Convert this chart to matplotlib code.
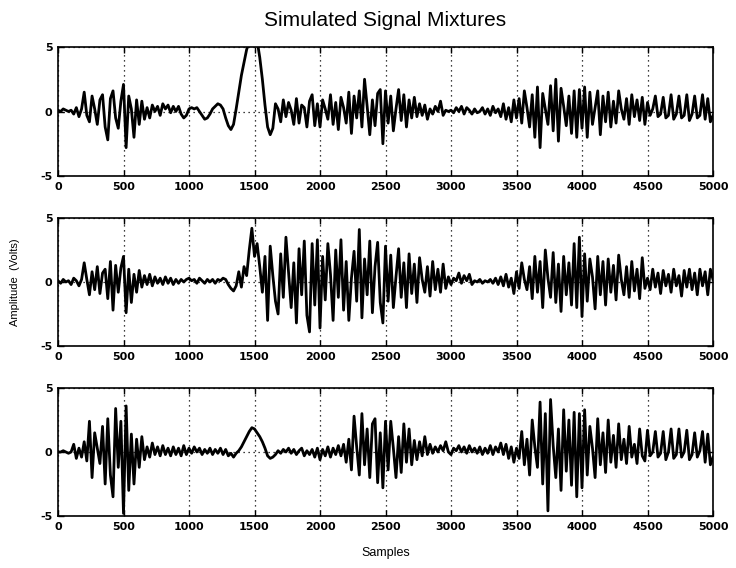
import numpy as np
import matplotlib.pyplot as plt

# ----- DATA (one value every 20 samples) -----
step = 20

mix1 = [0.1, 0.0, 0.2, 0.1, 0.0, 0.1, -0.2, 0.3, -0.4, 0.2, 1.5, -0.3, -0.8, 1.2, 0.2, -1.0, 0.9, 1.3, -1.2, -2.2, 1.0, 1.6, -0.5, -1.3, 0.8,
        2.1, -2.8, 1.2, 0.2, -2.0, 0.9, -1.0, 0.8, -0.6, 0.3, -0.5, 0.5, 0.0, 0.4, -0.3, 0.6, 0.2, 0.5, -0.1, 0.4, 0.0, 0.4, -0.2, -0.5, -0.3,
        0.2, 0.3, 0.2, 0.3, 0.0, -0.3, -0.6, -0.5, -0.2, 0.2, 0.4, 0.6, 0.5, 0.2, -0.5, -1.1, -1.4, -1.0, 0.2, 1.5, 2.8, 3.8, 4.8, 5.4, 5.6,
        5.8, 5.5, 4.2, 2.5, 0.5, -1.2, -1.8, -1.3, 0.6, 0.2, -0.8, 0.9, -0.4, 0.7, 0.1, -1.0, 1.0, -0.9, 0.5, 0.3, -1.2, 0.8, 1.3, -1.1, 0.6,
        -1.2, 0.9, 0.2, -0.6, 1.3, -1.0, 0.7, -1.4, 1.1, 0.3, -0.9, 1.5, -1.7, 1.2, -0.5, 1.6, -1.2, 2.5, 0.4, -1.8, 0.9, -1.1, 1.4, 1.7, -2.5,
        1.6, -0.9, 1.2, -1.5, 0.2, 1.7, -0.7, 1.3, -1.2, 0.9, -0.5, 1.1, -0.4, 0.6, -0.3, 0.5, -0.6, 0.2, -0.2, 0.4, 0.0, 0.8, -0.3, 0.1, 0.0,
        0.1, -0.1, 0.3, 0.0, 0.4, -0.2, 0.3, 0.1, -0.2, 0.2, -0.1, 0.0, 0.3, -0.2, 0.2, -0.3, 0.4, -0.1, 0.2, -0.4, 0.6, -0.6, 0.3, -0.8, 0.9,
        -0.5, 1.0, -0.9, 1.6, 0.3, -1.2, 1.3, -2.0, 1.9, -2.8, 1.4, 0.2, -1.0, 2.0, -1.5, 2.5, -2.3, 1.8, 0.4, -1.1, 1.2, -1.7, 1.6, -2.0, 1.7,
        -1.3, 1.9, -2.0, 1.5, -1.0, 0.3, 1.6, -1.8, 1.2, -0.8, 1.5, -1.2, 0.8, -0.9, 1.6, 0.2, -0.6, 1.0, -1.0, 1.3, -0.4, 0.9, -0.7, 1.1, -1.0,
        0.7, -0.3, 0.2, 1.2, -0.4, -0.2, 1.1, -0.5, -0.3, 1.3, -0.6, -0.2, 1.2, -0.5, -0.3, 1.3, -0.7, -0.2, 1.2, -0.5, -0.3, 1.3, -0.6, 1.0, -0.8, -0.3]

mix2 = [0.1, -0.1, 0.2, 0.0, 0.1, -0.2, 0.3, 0.1, -0.3, 0.2, 1.5, 0.2, -1.0, 0.8, -0.6, 1.2, -0.9, 0.7, 1.0, -1.3, 1.6, -2.2, 1.3, -0.8, 1.1,
        2.0, -2.4, 1.0, -1.6, 0.6, -0.8, 0.9, -0.4, 0.5, -0.2, 0.6, -0.3, 0.4, -0.1, 0.3, -0.2, 0.4, -0.1, 0.3, -0.2, 0.2, -0.1, 0.2, 0.0, 0.2,
        0.3, 0.1, 0.2, -0.1, 0.3, 0.1, -0.1, 0.2, 0.0, 0.2, -0.1, 0.2, 0.1, 0.3, 0.2, -0.2, -0.5, -0.7, -0.3, 0.8, -0.4, 1.2, 0.5, 2.5, 4.2,
        2.0, 3.0, 1.2, -0.8, 2.0, -3.0, 2.8, 0.5, -1.5, -2.5, 2.2, -1.2, 3.5, 0.8, -2.0, 1.5, -3.2, 2.6, -1.0, 3.2, -2.6, -3.9, 3.0, -1.8, 3.3,
        -3.6, 2.0, -1.4, 3.0, 0.6, -3.0, 2.5, -1.2, 3.3, -2.2, 1.6, -3.0, 0.3, 2.4, -1.5, 4.1, -2.8, 1.8, -1.0, 3.2, -2.4, 1.2, 3.1, -1.6, -3.2,
        2.8, -1.5, 2.1, -2.0, 0.4, 2.6, -1.2, 1.5, -2.0, 2.2, -0.9, 1.4, -1.6, 1.9, 0.2, -0.8, 1.2, -1.1, 1.6, -0.6, 1.0, -0.8, 1.4, -0.5, 0.4,
        -0.2, 0.3, 0.1, 0.7, -0.1, 0.5, 0.1, 0.6, -0.2, 0.1, 0.0, 0.2, -0.1, 0.1, 0.0, 0.2, -0.1, 0.3, -0.2, 0.4, -0.3, 0.6, -0.4, 0.3, -0.9,
        0.8, -0.5, 1.5, 0.2, -0.6, 1.2, -1.3, 2.0, -0.8, 1.6, -2.0, 2.5, 0.3, -1.2, 2.3, -1.6, 1.4, -2.3, 2.0, -1.0, 1.5, -1.8, 3.0, -2.0, 3.5,
        -2.7, 2.2, -1.5, 1.8, 0.4, -2.1, 2.0, -1.0, 1.6, -1.8, 1.8, -0.8, 1.3, -1.4, 2.1, 0.2, -1.0, 1.2, -1.2, 1.6, -0.7, 1.0, -1.3, 1.9, -0.5,
        0.3, -0.6, 1.0, -0.4, 0.7, -0.9, 0.9, -0.3, 0.6, -0.8, 1.0, -0.3, 0.5, -1.1, 0.9, -0.4, 1.0, -0.6, 0.7, -1.0, 1.0, -0.3, 0.8, -1.0, 1.0, 0.2]

mix3 = [0.0, 0.0, 0.1, 0.0, -0.1, 0.0, 0.6, -0.5, 0.3, -0.4, 0.8, -0.7, 2.4, -2.0, 1.5, 0.3, -0.9, 2.0, -2.5, 2.6, -1.8, -3.5, 3.4, -1.2, 2.4,
        -4.8, 3.6, -3.0, 1.4, -2.5, 1.0, -1.2, 1.2, -0.6, 0.4, -0.4, 0.7, -0.2, 0.4, -0.3, 0.5, -0.2, 0.3, -0.3, 0.4, -0.2, 0.3, -0.3, 0.5, -0.2,
        0.3, -0.1, 0.4, 0.0, 0.3, -0.2, 0.2, -0.1, 0.3, -0.2, 0.2, -0.1, 0.3, -0.2, 0.2, -0.3, -0.1, -0.4, -0.1, 0.1, 0.4, 0.8, 1.2, 1.6, 1.9,
        1.8, 1.5, 1.2, 0.8, 0.3, -0.3, -0.5, -0.4, -0.2, 0.1, -0.1, 0.2, 0.0, 0.3, -0.1, 0.2, -0.2, 0.1, 0.3, -0.3, 0.1, -0.2, 0.2, -0.4, 0.3,
        -0.6, 0.2, -0.3, 0.4, -0.4, 0.3, -0.2, 0.5, -0.3, 0.6, -0.8, 1.0, -1.4, 2.8, 0.4, -1.8, 3.0, -1.0, 1.8, -2.0, 2.2, 2.6, -2.4, 1.5, -2.8,
        2.4, -1.4, 2.4, 0.3, -2.0, 1.2, -1.6, 2.2, -0.8, 1.8, -1.0, 0.9, -0.6, 0.8, -0.3, 1.2, -0.2, 0.6, -0.1, 0.4, 0.0, 0.5, 0.1, 0.8, 0.0,
        -0.2, 0.3, 0.1, 0.5, 0.0, 0.4, -0.1, 0.5, 0.0, 0.3, -0.1, 0.4, -0.2, 0.3, -0.1, 0.5, -0.2, 0.4, 0.0, 0.7, -0.2, 0.6, -0.5, 0.4, -0.8,
        0.3, -0.5, 1.6, -1.0, 1.0, -1.8, 2.5, 0.4, -1.2, 3.9, -2.5, 3.0, -4.6, 4.1, 0.5, -2.0, 1.8, -3.0, 3.3, -1.5, 2.5, -2.6, 3.1, -3.5, 3.0,
        -2.8, 3.3, -1.8, 2.0, 0.3, -2.0, 2.6, -1.0, 1.5, -1.6, 2.5, -0.8, 1.3, -1.2, 2.2, -0.6, 1.0, -0.9, 2.0, -0.4, 0.6, -0.9, 1.8, -0.3, -0.7,
        1.7, -0.3, 0.0, 1.6, -0.4, -0.1, 1.6, -0.6, 0.0, 1.8, -0.5, -0.2, 1.8, -0.4, 0.0, 1.7, -0.6, -0.2, 1.5, -0.4, 0.1, 1.6, -0.8, 1.4, -1.0, -0.4]

x_ticks = [0, 500, 1000, 1500, 2000, 2500, 3000, 3500, 4000, 4500, 5000]
y_ticks = [-5, 0, 5]

plt.rcParams['font.family'] = ['Liberation Sans', 'DejaVu Sans']

fig = plt.figure(figsize=(7.36, 5.68), dpi=100)
W, H = 736, 568
boxes = [(47, 176), (218, 346), (388, 516)]
left, right = 58, 713

tick_font = {'family': 'DejaVu Sans', 'weight': 'bold', 'size': 8}

for (top, bot), sig in zip(boxes, [mix1, mix2, mix3]):
    ax = fig.add_axes([left / W, 1 - bot / H, (right - left) / W, (bot - top) / H])
    samples = np.arange(len(sig)) * step
    ax.plot(samples, sig, color='black', linewidth=2.0)
    ax.set_xlim(0, 5000)
    ax.set_ylim(-5, 5)
    ax.set_xticks(x_ticks)
    ax.set_yticks(y_ticks)
    ax.set_xticklabels([str(t) for t in x_ticks], fontdict=tick_font)
    ax.set_yticklabels([str(t) for t in y_ticks], fontdict=tick_font)
    ax.tick_params(direction='in', length=4, width=1, pad=4, top=True, right=True)
    ax.grid(True, linestyle=(0, (1, 3)), color='black', linewidth=0.9)
    for s in ax.spines.values():
        s.set_linewidth(1.2)

fig.text((left + right) / 2 / W, 1 - 20 / H, 'Simulated Signal Mixtures',
         ha='center', va='center', fontsize=15)
fig.text(15 / W, 1 - 282 / H, 'Amplitude  (Volts)', rotation=90,
         ha='center', va='center', fontsize=8)
fig.text((left + right) / 2 / W, 1 - 553 / H, 'Samples',
         ha='center', va='center', fontsize=9)

fig.savefig('out.png', dpi=100)
